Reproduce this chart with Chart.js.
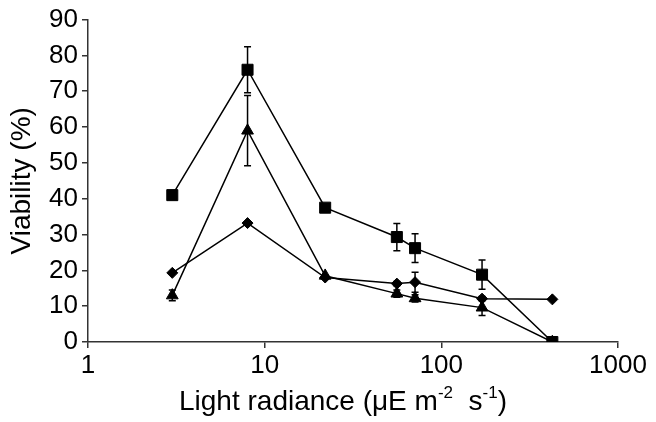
<!DOCTYPE html>
<html>
<head>
<meta charset="utf-8">
<script src="https://cdn.jsdelivr.net/npm/chart.js@4.4.0/dist/chart.umd.min.js"></script>
<style>
html, body { margin: 0; padding: 0; background: #fff; }
</style>
</head>
<body>
<canvas id="chart" width="656" height="422"></canvas>
<script>
document.addEventListener("DOMContentLoaded", function() {
    'use strict';

    var radiance = [3, 8, 22, 56, 71, 170, 425];
    var squareValues = [41, 76, 37.5, 29.3, 26.2, 18.8, 0];
    var squareErrors = [0, 6.4, 1, 3.8, 4, 4.1, 0];
    var triangleValues = [13, 59, 18.5, 13.5, 12.2, 9.6, 0];
    var triangleErrors = [1.5, 9.8, 0, 1, 1, 2.2, 0];
    var diamondValues = [19.3, 33.2, 18, 16.3, 16.7, 12.1, 11.9];
    var diamondErrors = [0, 0, 0, 0.6, 2.8, 0.6, 0];
    var xTicks = [1, 10, 100, 1000];

    var FONT = '"Liberation Sans", Arial, sans-serif';

    function points(values) {
        return radiance.map(function(x, i) {
            return {x: x, y: values[i]};
        });
    }

    function series(label, values, errors, style, radius) {
        return {
            label: label,
            data: points(values),
            errors: errors,
            borderColor: '#000',
            backgroundColor: '#000',
            borderWidth: 1.5,
            pointStyle: style,
            pointRadius: radius,
            pointHoverRadius: radius,
            pointBorderWidth: 1,
            pointBackgroundColor: '#000',
            pointBorderColor: '#000',
            tension: 0,
            fill: false
        };
    }

    var errorBars = {
        id: 'errorBars',
        afterDatasetsDraw: function(chart) {
            var ctx = chart.ctx;
            var xs = chart.scales.x, ys = chart.scales.y;
            ctx.save();
            ctx.strokeStyle = '#000';
            ctx.lineWidth = 1.5;
            chart.data.datasets.forEach(function(ds) {
                ds.data.forEach(function(p, j) {
                    var e = ds.errors[j];
                    if (!e) {
                        return;
                    }
                    var px = xs.getPixelForValue(p.x);
                    var top = ys.getPixelForValue(p.y + e);
                    var bot = ys.getPixelForValue(p.y - e);
                    ctx.beginPath();
                    ctx.moveTo(px, top);
                    ctx.lineTo(px, bot);
                    ctx.moveTo(px - 3.5, top);
                    ctx.lineTo(px + 3.5, top);
                    ctx.moveTo(px - 3.5, bot);
                    ctx.lineTo(px + 3.5, bot);
                    ctx.stroke();
                });
            });
            ctx.restore();
        }
    };

    // axis titles, the x one needs superscripts
    var axisTitles = {
        id: 'axisTitles',
        afterDraw: function(chart) {
            var ctx = chart.ctx;
            var area = chart.chartArea;
            ctx.save();
            ctx.fillStyle = '#000';

            ctx.font = '28px ' + FONT;
            ctx.textAlign = 'center';
            ctx.textBaseline = 'middle';
            ctx.translate(22, (area.top + area.bottom) / 2);
            ctx.rotate(-Math.PI / 2);
            ctx.fillText('Viability (%)', 0, 0);
            ctx.setTransform(1, 0, 0, 1, 0, 0);

            var parts = [
                ['Light radiance (\u03bcE m', false],
                ['-2', true],
                ['  s', false],
                ['-1', true],
                [')', false]
            ];
            var normal = '28px ' + FONT, sup = '17px ' + FONT;
            var total = 0;
            parts.forEach(function(p) {
                ctx.font = p[1] ? sup : normal;
                total += ctx.measureText(p[0]).width;
            });
            var x = 343 - total / 2;
            var base = 410;
            ctx.textAlign = 'left';
            ctx.textBaseline = 'alphabetic';
            parts.forEach(function(p) {
                ctx.font = p[1] ? sup : normal;
                ctx.fillText(p[0], x, p[1] ? base - 12 : base);
                x += ctx.measureText(p[0]).width;
            });
            ctx.restore();
        }
    };

    new Chart(document.getElementById('chart').getContext('2d'), {
        type: 'line',
        data: {
            datasets: [
                series('Square', squareValues, squareErrors, 'rect', 7.8),
                series('Triangle', triangleValues, triangleErrors, 'triangle', 6.8),
                series('Diamond', diamondValues, diamondErrors, 'rectRot', 5.5)
            ]
        },
        options: {
            responsive: false,
            animation: false,
            layout: {
                padding: {top: 17, right: 38, left: 0, bottom: 0}
            },
            plugins: {
                legend: {display: false},
                tooltip: {enabled: false}
            },
            scales: {
                x: {
                    type: 'logarithmic',
                    min: 1,
                    max: 1000,
                    afterBuildTicks: function(scale) {
                        scale.ticks = xTicks.map(function(v) {
                            return {value: v, major: true};
                        });
                    },
                    afterFit: function(scale) {
                        scale.height = 80;
                    },
                    border: {color: '#333', width: 1.5},
                    grid: {
                        drawOnChartArea: false,
                        color: '#333',
                        lineWidth: 1.5,
                        tickLength: 6
                    },
                    ticks: {
                        color: '#000',
                        font: {family: FONT, size: 26},
                        padding: 2,
                        maxRotation: 0,
                        autoSkip: false,
                        callback: function(value) {
                            return String(value);
                        }
                    }
                },
                y: {
                    min: 0,
                    max: 90,
                    afterFit: function(scale) {
                        scale.width = 88;
                    },
                    border: {color: '#333', width: 1.5},
                    grid: {
                        drawOnChartArea: false,
                        color: '#333',
                        lineWidth: 1.5,
                        tickLength: 6
                    },
                    ticks: {
                        stepSize: 10,
                        color: '#000',
                        font: {family: FONT, size: 26},
                        padding: 4
                    }
                }
            }
        },
        plugins: [errorBars, axisTitles]
    });
});
</script>
</body>
</html>
